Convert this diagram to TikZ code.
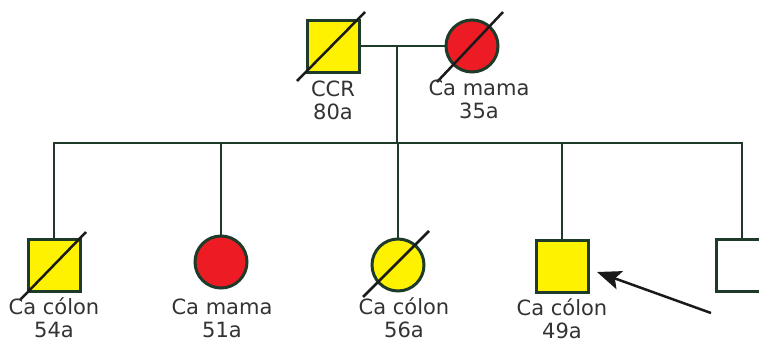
\documentclass[tikz,border=0pt]{standalone}
\usepackage{fontspec}
\setmainfont{DejaVu Sans}
\usetikzlibrary{arrows.meta,calc}
\definecolor{affY}{HTML}{FFF200}
\definecolor{affR}{HTML}{ED1C24}
\definecolor{edge}{HTML}{1E3A28}
\definecolor{ink}{HTML}{1A1A1A}
\tikzset{
  male/.style={draw=edge, line width=3pt, minimum size=52pt, inner sep=0pt, rectangle},
  female/.style={draw=edge, line width=3pt, minimum size=52pt, inner sep=0pt, circle},
  yel/.style={fill=affY},
  redf/.style={fill=affR},
  link/.style={draw=edge, line width=2.8pt},
  dead/.style={draw=ink, line width=2.5pt},
  lbl/.style={align=center, font=\fontsize{21}{23}\selectfont, text=black!80, inner sep=0pt},
  pointer/.style={draw=ink, line width=2.5pt, -{Stealth[length=24pt, width=19pt, inset=5pt]}}
}
\begin{document}
\begin{tikzpicture}[x=1pt, y=-1pt]
  \useasboundingbox (0,0) rectangle (759,340);
  % parents
  \node[male, yel]   (f)  at (333,46) {};
  \node[female, redf](m)  at (472,46) {};
  \coordinate (mid) at (397,46);
  \coordinate (sib) at (397,143);
  % children
  \node[male, yel]    (c1) at (54,265) {};
  \node[female, redf] (c2) at (221,262) {};
  \node[female, yel]  (c3) at (398,265) {};
  \node[male, yel]    (c4) at (562,266) {};
  \node[male]         (c5) at (742,265) {};
  % marriage and sibship lines
  \draw[link] (f.east) -- (m.west);
  \draw[link] (mid) -- (sib);
  \draw[link, line cap=rect] (c1.north |- sib) -- (c5.north |- sib);
  \foreach \c in {c1,c2,c3,c4,c5}
    \draw[link] (\c.north |- sib) -- (\c.north);
  % deceased marks
  \draw[dead] ($(f)+(-36,35)$) -- ($(f)+(32,-34)$);
  \draw[dead] ($(m)+(-35,36)$) -- ($(m)+(31,-34)$);
  \draw[dead] ($(c1)+(-34,35)$) -- ($(c1)+(32,-33)$);
  \draw[dead] ($(c3)+(-35,32)$) -- ($(c3)+(31,-34)$);
  % labels
  \node[lbl] (lf)  at (333,100) {CCR\\80a};
  \node[lbl] (lm)  at (479,99)  {Ca mama\\35a};
  \node[lbl] (l1)  at (54,318)  {Ca cólon\\54a};
  \node[lbl] (l2)  at (222,318) {Ca mama\\51a};
  \node[lbl] (l3)  at (404,318) {Ca cólon\\56a};
  \node[lbl] (l4)  at (562,319) {Ca cólon\\49a};
  % proband arrow
  \coordinate (tail) at (711,313);
  \coordinate (tip) at (597,272);
  \draw[pointer] (tail) -- (tip);
\end{tikzpicture}
\end{document}
